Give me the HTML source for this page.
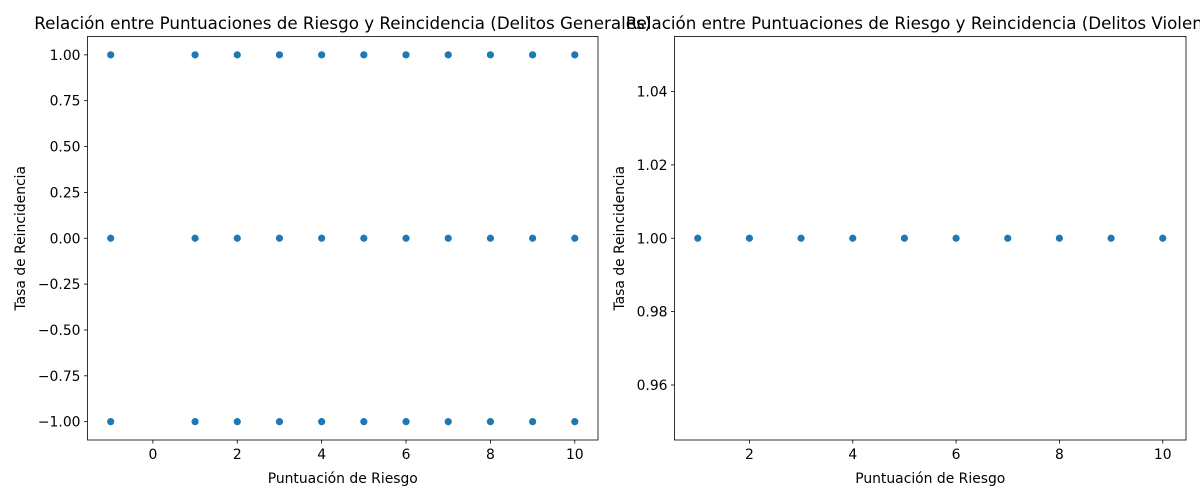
<!DOCTYPE html>
<html><head><meta charset="utf-8"><style>
body{margin:0;background:#fff}
svg{display:block;font-family:"DejaVu Sans","Liberation Sans",sans-serif}
</style></head><body>
<svg id="chart" width="1200" height="500" viewBox="0 0 1200 500"></svg>
<script>
const leftX = [-1,1,2,3,4,5,6,7,8,9,10];
const leftLevels = [1,0,-1];
const leftXTicks = [0,2,4,6,8,10];
const leftYTicks = [1.00,0.75,0.50,0.25,0.00,-0.25,-0.50,-0.75,-1.00];
const rightX = [1,2,3,4,5,6,7,8,9,10];
const rightY = [1,1,1,1,1,1,1,1,1,1];
const rightXTicks = [2,4,6,8,10];
const rightYTicks = [0.96,0.98,1.00,1.02,1.04];

const NS="http://www.w3.org/2000/svg";
const svg=document.getElementById('chart');
function mk(tag,attrs,parent){const e=document.createElementNS(NS,tag);for(const k in attrs)e.setAttribute(k,attrs[k]);(parent||svg).appendChild(e);return e;}

function panel(name,box,xd,yd,xt,yt,ydec,pts,title,tx){
  const g=mk('g',{});
  
  
  const sx=v=>box.x0+(v-xd[0])/(xd[1]-xd[0])*(box.x1-box.x0);
  const sy=v=>box.y1-(v-yd[0])/(yd[1]-yd[0])*(box.y1-box.y0);
  const pg=mk('g',{},g);
  
  
  pts.forEach(p=>{
    const c=mk('circle',{cx:sx(p[0]),cy:sy(p[1]),r:4,fill:'#1f77b4',stroke:'#fff','stroke-width':0.8},pg);
    
    
  });
  const fr=mk('rect',{x:box.x0,y:box.y0,width:box.x1-box.x0,height:box.y1-box.y0,fill:'none',stroke:'#000','stroke-width':0.8},g);
  
  
  xt.forEach(v=>{
    const x=sx(v);
    mk('line',{x1:x,x2:x,y1:box.y1,y2:box.y1+3.5,stroke:'#000','stroke-width':0.8},g);
    const t=mk('text',{x:x,y:box.y1+19,'font-size':13.9,'text-anchor':'middle',fill:'#000'},g);
    t.textContent=v<0?'\u2212'+Math.abs(v):String(v);
    
    
  });
  yt.forEach(v=>{
    const y=sy(v);
    mk('line',{x1:box.x0-3.5,x2:box.x0,y1:y,y2:y,stroke:'#000','stroke-width':0.8},g);
    const t=mk('text',{x:box.x0-7,y:y+5,'font-size':13.9,'text-anchor':'end',fill:'#000'},g);
    const s=Math.abs(v).toFixed(ydec);
    t.textContent=v<0?'\u2212'+s:s;
    
    
  });
  const xl=mk('text',{x:(box.x0+box.x1)/2,y:483,'font-size':13.9,'text-anchor':'middle'},g);
  xl.textContent='Puntuación de Riesgo';
  
  
  const yl=mk('text',{x:0,y:0,'font-size':13.9,'text-anchor':'middle',transform:`translate(${tx},${(box.y0+box.y1)/2}) rotate(-90)`},g);
  yl.textContent='Tasa de Reincidencia';
  
  
  const tt=mk('text',{x:(box.x0+box.x1)/2,y:29,'font-size':16.7,'text-anchor':'middle'},g);
  tt.textContent=title;
  
  
}
const lp=[];leftLevels.forEach(y=>leftX.forEach(x=>lp.push([x,y])));
panel('left-panel',{x0:87.5,x1:598,y0:36.5,y1:440},[-1.55,10.55],[-1.1,1.1],leftXTicks,leftYTicks,2,lp,
  'Relación entre Puntuaciones de Riesgo y Reincidencia (Delitos Generales)',25);
panel('right-panel',{x0:674.5,x1:1186,y0:36.5,y1:440},[0.55,10.45],[0.945,1.055],rightXTicks,rightYTicks,2,
  rightX.map((x,i)=>[x,rightY[i]]),
  'Relación entre Puntuaciones de Riesgo y Reincidencia (Delitos Violentos)',624);
</script>
</body></html>
